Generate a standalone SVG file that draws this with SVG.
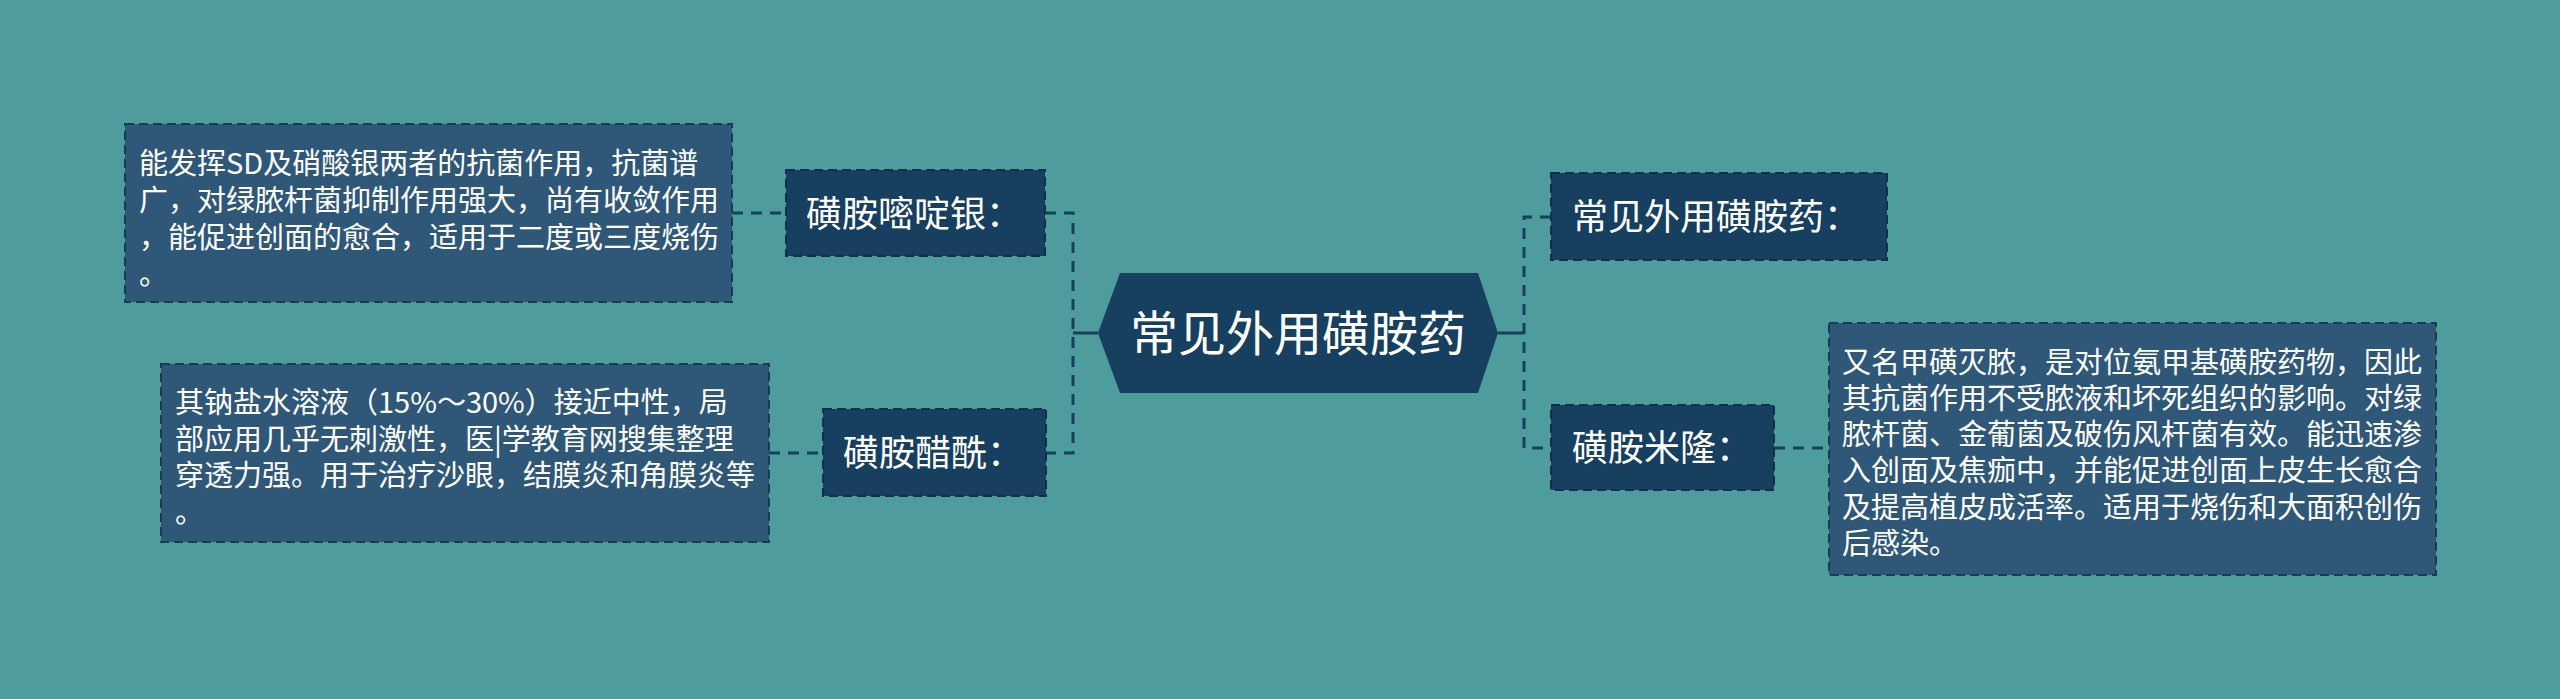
<svg xmlns="http://www.w3.org/2000/svg" width="2560" height="699" viewBox="0 0 2560 699">
<style>
.t{font-family:"Noto Sans CJK SC","Noto Sans",sans-serif;fill:#ffffff}
.d{font-size:29px}
.n{font-size:36px}
.node{fill:#173f5f;stroke:#10304a;stroke-width:2;stroke-dasharray:9 5}
.box{fill:#2f5878;stroke:#173a56;stroke-width:2;stroke-dasharray:9 5}
.c{fill:none;stroke:#173f5f;stroke-width:3;stroke-dasharray:11 8}
.s{fill:none;stroke:#173f5f;stroke-width:3}
</style>
<rect width="2560" height="699" fill="#4e9c9c"/>
<g id="connectors">
<path class="s" d="M1073,333 H1098"/>
<path class="c" d="M1045,213 H1073 V453 H1046"/>
<path class="c" d="M732,213 H786"/>
<path class="c" d="M769,453 H823"/>
<path class="s" d="M1498,333 H1524"/>
<path class="c" d="M1551,217 H1524 V448 H1551"/>
<path class="c" d="M1774,448 H1829"/>
</g>
<g id="root">
<polygon points="1098,333 1120,273 1478,273 1498,333 1478,393 1120,393" fill="#173f5f"/>
<text class="t" x="1298" y="351" font-size="48" text-anchor="middle">常见外用磺胺药</text>
</g>
<g id="n-sdag">
<rect class="node" x="786" y="170" width="259" height="86"/>
<text class="t n" x="806" y="227">磺胺嘧啶银：</text>
</g>
<g id="d-sdag">
<rect class="box" x="125" y="124" width="607" height="178"/>
<text class="t d" x="139" y="174">能发挥SD及硝酸银两者的抗菌作用，抗菌谱</text>
<text class="t d" x="139" y="211">广，对绿脓杆菌抑制作用强大，尚有收敛作用</text>
<text class="t d" x="139" y="248">，能促进创面的愈合，适用于二度或三度烧伤</text>
<text class="t d" x="139" y="285">。</text>
</g>
<g id="n-sa">
<rect class="node" x="823" y="409" width="223" height="87"/>
<text class="t n" x="843" y="466">磺胺醋酰：</text>
</g>
<g id="d-sa">
<rect class="box" x="161" y="364" width="608" height="178"/>
<text class="t d" x="175" y="413">其钠盐水溶液（15%～30%）接近中性，局</text>
<text class="t d" x="175" y="450">部应用几乎无刺激性，医|学教育网搜集整理</text>
<text class="t d" x="175" y="486">穿透力强。用于治疗沙眼，结膜炎和角膜炎等</text>
<text class="t d" x="175" y="523">。</text>
</g>
<g id="n-common">
<rect class="node" x="1551" y="173" width="336" height="87"/>
<text class="t n" x="1572" y="230">常见外用磺胺药：</text>
</g>
<g id="n-mafenide">
<rect class="node" x="1551" y="405" width="223" height="85"/>
<text class="t n" x="1572" y="461">磺胺米隆：</text>
</g>
<g id="d-mafenide">
<rect class="box" x="1829" y="323" width="607" height="252"/>
<text class="t d" x="1842" y="373">又名甲磺灭脓，是对位氨甲基磺胺药物，因此</text>
<text class="t d" x="1842" y="409">其抗菌作用不受脓液和坏死组织的影响。对绿</text>
<text class="t d" x="1842" y="445">脓杆菌、金葡菌及破伤风杆菌有效。能迅速渗</text>
<text class="t d" x="1842" y="481">入创面及焦痂中，并能促进创面上皮生长愈合</text>
<text class="t d" x="1842" y="518">及提高植皮成活率。适用于烧伤和大面积创伤</text>
<text class="t d" x="1842" y="554">后感染。</text>
</g>
</svg>
